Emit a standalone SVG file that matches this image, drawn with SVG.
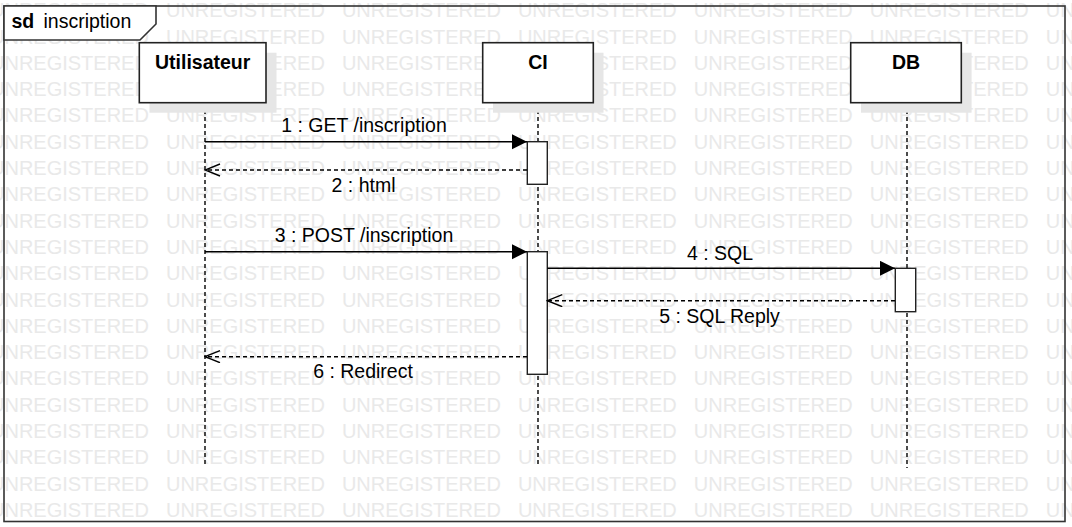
<svg xmlns="http://www.w3.org/2000/svg" width="1072" height="527" viewBox="0 0 1072 527">
<style>
.wm{font-family:"Liberation Sans",Arial,sans-serif;font-size:20px;fill:#e9e9e9;word-spacing:11.5px}
.lbl{font-family:"Liberation Sans",Arial,sans-serif;font-size:19.5px;fill:#000}
.head{fill:#fff;stroke:#222;stroke-width:1.6}
.shadow{fill:#e6e6e6}
.life{stroke:#000;stroke-width:1.4;stroke-dasharray:4 3;fill:none}
.act{fill:#fff;stroke:#222;stroke-width:1.4}
.msg{stroke:#000;stroke-width:1.4;fill:none}
.ret{stroke:#000;stroke-width:1.4;fill:none;stroke-dasharray:4 3}
</style>
<defs>
<marker id="filled" markerUnits="userSpaceOnUse" markerWidth="16" markerHeight="16" refX="15" refY="7.5" orient="auto">
<path d="M0,0 L15,7.5 L0,15 Z" fill="#000"/>
</marker>
<marker id="open" markerUnits="userSpaceOnUse" markerWidth="17" markerHeight="14" refX="15.5" refY="6.5" orient="auto">
<path d="M0.5,0.5 L15.5,6.5 L0.5,12.5" fill="none" stroke="#000" stroke-width="1.4"/>
</marker>
</defs>
<rect x="0" y="0" width="1072" height="527" fill="#fff"/>
<g id="watermark">
<text class="wm" x="-10" y="17.2">UNREGISTERED UNREGISTERED UNREGISTERED UNREGISTERED UNREGISTERED UNREGISTERED UNREGISTERED</text>
<text class="wm" x="-10" y="43.5">UNREGISTERED UNREGISTERED UNREGISTERED UNREGISTERED UNREGISTERED UNREGISTERED UNREGISTERED</text>
<text class="wm" x="-10" y="69.8">UNREGISTERED UNREGISTERED UNREGISTERED UNREGISTERED UNREGISTERED UNREGISTERED UNREGISTERED</text>
<text class="wm" x="-10" y="96.1">UNREGISTERED UNREGISTERED UNREGISTERED UNREGISTERED UNREGISTERED UNREGISTERED UNREGISTERED</text>
<text class="wm" x="-10" y="122.4">UNREGISTERED UNREGISTERED UNREGISTERED UNREGISTERED UNREGISTERED UNREGISTERED UNREGISTERED</text>
<text class="wm" x="-10" y="148.7">UNREGISTERED UNREGISTERED UNREGISTERED UNREGISTERED UNREGISTERED UNREGISTERED UNREGISTERED</text>
<text class="wm" x="-10" y="175">UNREGISTERED UNREGISTERED UNREGISTERED UNREGISTERED UNREGISTERED UNREGISTERED UNREGISTERED</text>
<text class="wm" x="-10" y="201.3">UNREGISTERED UNREGISTERED UNREGISTERED UNREGISTERED UNREGISTERED UNREGISTERED UNREGISTERED</text>
<text class="wm" x="-10" y="227.6">UNREGISTERED UNREGISTERED UNREGISTERED UNREGISTERED UNREGISTERED UNREGISTERED UNREGISTERED</text>
<text class="wm" x="-10" y="253.9">UNREGISTERED UNREGISTERED UNREGISTERED UNREGISTERED UNREGISTERED UNREGISTERED UNREGISTERED</text>
<text class="wm" x="-10" y="280.2">UNREGISTERED UNREGISTERED UNREGISTERED UNREGISTERED UNREGISTERED UNREGISTERED UNREGISTERED</text>
<text class="wm" x="-10" y="306.5">UNREGISTERED UNREGISTERED UNREGISTERED UNREGISTERED UNREGISTERED UNREGISTERED UNREGISTERED</text>
<text class="wm" x="-10" y="332.8">UNREGISTERED UNREGISTERED UNREGISTERED UNREGISTERED UNREGISTERED UNREGISTERED UNREGISTERED</text>
<text class="wm" x="-10" y="359.1">UNREGISTERED UNREGISTERED UNREGISTERED UNREGISTERED UNREGISTERED UNREGISTERED UNREGISTERED</text>
<text class="wm" x="-10" y="385.4">UNREGISTERED UNREGISTERED UNREGISTERED UNREGISTERED UNREGISTERED UNREGISTERED UNREGISTERED</text>
<text class="wm" x="-10" y="411.7">UNREGISTERED UNREGISTERED UNREGISTERED UNREGISTERED UNREGISTERED UNREGISTERED UNREGISTERED</text>
<text class="wm" x="-10" y="438">UNREGISTERED UNREGISTERED UNREGISTERED UNREGISTERED UNREGISTERED UNREGISTERED UNREGISTERED</text>
<text class="wm" x="-10" y="464.3">UNREGISTERED UNREGISTERED UNREGISTERED UNREGISTERED UNREGISTERED UNREGISTERED UNREGISTERED</text>
<text class="wm" x="-10" y="490.6">UNREGISTERED UNREGISTERED UNREGISTERED UNREGISTERED UNREGISTERED UNREGISTERED UNREGISTERED</text>
<text class="wm" x="-10" y="516.9">UNREGISTERED UNREGISTERED UNREGISTERED UNREGISTERED UNREGISTERED UNREGISTERED UNREGISTERED</text>
</g>
<g id="frame">
<rect x="4" y="6" width="1061" height="515.5" fill="none" stroke="#333" stroke-width="1.6"/>
<path d="M4,6 H156 V24 L140,40 H4 Z" fill="#fff" stroke="#333" stroke-width="1.6"/>
<text class="lbl" x="11.5" y="28"><tspan font-weight="bold">sd</tspan><tspan x="43.5">inscription</tspan></text>
</g>
<g id="lifelines">
<line class="life" x1="205" y1="103" x2="205" y2="467"/>
<line class="life" x1="538" y1="103" x2="538" y2="467"/>
<line class="life" x1="907" y1="103" x2="907" y2="468"/>
</g>
<g id="utilisateur">
<rect class="shadow" x="149.5" y="52.7" width="127" height="60"/>
<rect class="head" x="139.3" y="42.7" width="126.7" height="60"/>
<text class="lbl" x="202.7" y="68.5" text-anchor="middle" font-weight="bold">Utilisateur</text>
</g>
<g id="ci">
<rect class="shadow" x="493" y="52.7" width="110.5" height="60"/>
<rect class="head" x="482.7" y="42.7" width="110.6" height="60"/>
<text class="lbl" x="538" y="69" text-anchor="middle" font-weight="bold">CI</text>
</g>
<g id="db">
<rect class="shadow" x="861" y="52.7" width="110.6" height="60"/>
<rect class="head" x="850.7" y="42.7" width="110.6" height="60"/>
<text class="lbl" x="906" y="69" text-anchor="middle" font-weight="bold">DB</text>
</g>
<g id="activations">
<rect class="act" x="527.3" y="141.7" width="20" height="42.6"/>
<rect class="act" x="527.3" y="251.7" width="20" height="122.6"/>
<rect class="act" x="895.3" y="268.3" width="20.4" height="43.4"/>
</g>
<g id="connectors">
<line class="msg" x1="205" y1="141.7" x2="527" y2="141.7" marker-end="url(#filled)"/>
<line class="ret" x1="527" y1="170" x2="205" y2="170" marker-end="url(#open)"/>
<line class="msg" x1="205" y1="251.7" x2="527" y2="251.7" marker-end="url(#filled)"/>
<line class="msg" x1="547.3" y1="268.3" x2="895" y2="268.3" marker-end="url(#filled)"/>
<line class="ret" x1="895" y1="300.7" x2="547.3" y2="300.7" marker-end="url(#open)"/>
<line class="ret" x1="527" y1="356.7" x2="205" y2="356.7" marker-end="url(#open)"/>
<text class="lbl" x="364" y="131.5" text-anchor="middle">1 : GET /inscription</text>
<text class="lbl" x="363.5" y="191.5" text-anchor="middle">2 : html</text>
<text class="lbl" x="364" y="241.7" text-anchor="middle">3 : POST /inscription</text>
<text class="lbl" x="720" y="260" text-anchor="middle">4 : SQL</text>
<text class="lbl" x="719.5" y="323" text-anchor="middle">5 : SQL Reply</text>
<text class="lbl" x="363" y="378" text-anchor="middle">6 : Redirect</text>
</g>
</svg>
